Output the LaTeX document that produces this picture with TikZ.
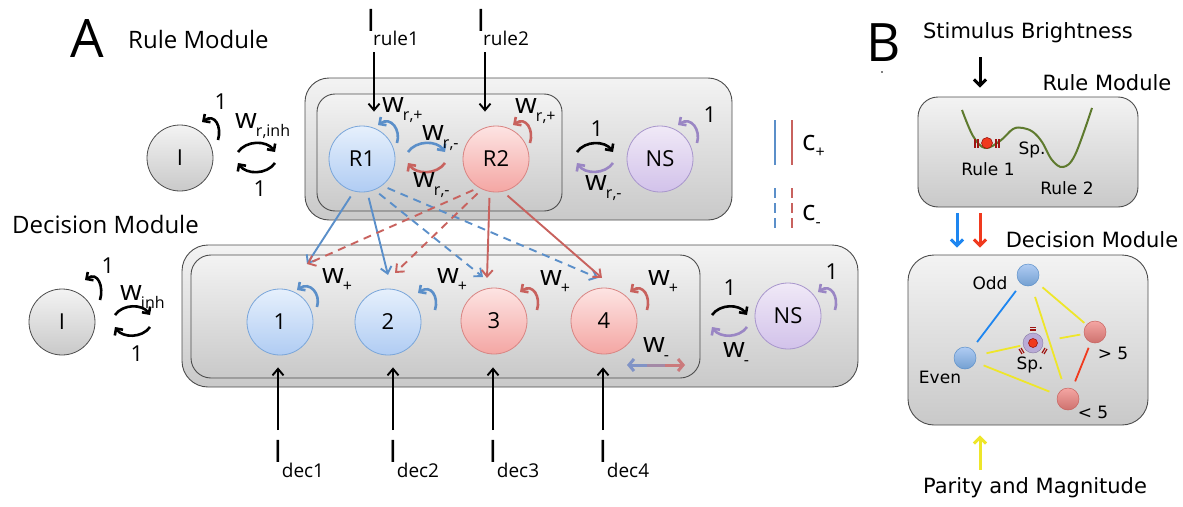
\documentclass[tikz,border=0pt]{standalone}
\usepackage{fontspec}
\setmainfont{Open Sans}
\newfontfamily\bfont{DejaVu Sans}
\usetikzlibrary{arrows.meta,calc}
\definecolor{cblue}{HTML}{5B8FC9}
\definecolor{cred}{HTML}{C8625E}
\definecolor{cpurp}{HTML}{9A86C4}
\definecolor{nblueT}{HTML}{E6F0FC}
\definecolor{nblueB}{HTML}{B0CCF3}
\definecolor{nblueD}{HTML}{7AA6DA}
\definecolor{nredT}{HTML}{FDE4E3}
\definecolor{nredB}{HTML}{F4A6A3}
\definecolor{nredD}{HTML}{D98583}
\definecolor{npurT}{HTML}{F0E9F7}
\definecolor{npurB}{HTML}{D2C2EA}
\definecolor{npurD}{HTML}{A896CC}
\definecolor{grT}{HTML}{F3F3F3}
\definecolor{grB}{HTML}{C9C9C9}
\definecolor{olivec}{HTML}{5E7A2E}
\definecolor{byel}{HTML}{EEE62A}
\definecolor{bblue}{HTML}{1E86F0}
\definecolor{bred}{HTML}{F03A1E}
\definecolor{dred}{HTML}{9E1410}
\definecolor{wmL}{HTML}{8093C6}
\definecolor{wmM}{HTML}{A489A6}
\definecolor{wmR}{HTML}{CB7A7C}
\tikzset{
  box/.style={draw=black!70, line width=0.9pt, top color=grT, bottom color=grB, inner sep=0pt},
  circ/.style={circle, minimum size=66pt, inner sep=0pt, line width=0.8pt, font=\fontsize{22}{22}\selectfont},
  bluen/.style={circ, draw=nblueD, top color=nblueT, bottom color=nblueB},
  redn/.style={circ, draw=nredD, top color=nredT, bottom color=nredB},
  purpn/.style={circ, draw=npurD, top color=npurT, bottom color=npurB},
  grayn/.style={circ, draw=black!70, top color=grT, bottom color=grB},
  lp/.style={line width=2.6pt, -{Straight Barb[length=5pt,width=10pt]}},
  conn/.style={line width=1.9pt, shorten <=6pt, -{Straight Barb[length=6.5pt,width=11pt]}},
  dconn/.style={conn, dash pattern=on 8pt off 6pt},
  inarr/.style={line width=1.9pt, -{Straight Barb[length=6.5pt,width=11pt]}},
  wl/.style={anchor=base west, inner sep=0pt, font=\fontsize{28}{28}\selectfont},
  onel/.style={inner sep=0pt, font=\fontsize{22}{22}\selectfont},
  ttl/.style={anchor=base west, inner sep=0pt, font=\fontsize{24}{24}\selectfont},
  bigl/.style={inner sep=0pt, font=\fontsize{53}{53}\selectfont},
  ilab/.style={inner sep=0pt, font=\fontsize{31}{31}\selectfont},
  isub/.style={inner sep=0pt, font=\fontsize{19}{19}\selectfont},
  legl/.style={line width=1.9pt},
  bhead/.style={inner sep=0pt, font=\bfont\fontsize{21}{21}\selectfont},
  bsm/.style={inner sep=0pt, font=\bfont\fontsize{17}{17}\selectfont},
  barr/.style={line width=3pt, -{Straight Barb[length=6pt,width=12pt]}},
  bline/.style={line width=1.8pt},
  sbn/.style={circle, minimum size=22pt, inner sep=0pt, line width=0.5pt},
}
\newcommand\wsub[1]{w\kern-1pt\raisebox{-8pt}{\fontsize{16}{16}\selectfont #1}}
\newcommand\sloop[4]{\draw[lp,#1] ($(#2)+(#3)$) .. controls ($(#2)+(#3)+(4,-13)$) and ($(#2)+(#4)+(13,-9)$) .. ($(#2)+(#4)$);}
\begin{document}
\begin{tikzpicture}[x=1pt,y=-1pt]
\useasboundingbox (0,0) rectangle (1183,506);
% ---------------- Panel A ----------------
\node[bigl] (A) at (87,39) {A};
\node[ttl] (rmt) at (128,48) {Rule Module};
\node[ttl] (dmt) at (12,233) {Decision Module};
% boxes
\node[box, rounded corners=24pt, minimum width=427pt, minimum height=142pt] (rmo) at (518.5,149) {};
\node[box, rounded corners=18pt, minimum width=245pt, minimum height=117pt] (rmi) at (439.5,152.5) {};
\node[box, rounded corners=26pt, minimum width=676pt, minimum height=142pt] (dmo) at (520,316) {};
\node[box, rounded corners=20pt, minimum width=509pt, minimum height=123pt] (dmi) at (445.5,316.5) {};
% nodes
\node[grayn] (Ir) at (180,158) {I};
\node[bluen] (R1) at (362,159) {R1};
\node[redn] (R2) at (496,159) {R2};
\node[purpn] (NSr) at (660,159) {NS};
\node[grayn] (Id) at (62,322) {I};
\node[bluen] (d1) at (280,322) {1};
\node[bluen] (d2) at (388,322) {2};
\node[redn] (d3) at (494,321) {3};
\node[redn] (d4) at (604,321) {4};
\node[purpn] (NSd) at (788,316) {NS};
% self loops
\sloop{black}{Ir}{38,-18}{22,-36}
\sloop{cblue}{R1}{35,-16}{16,-34}
\sloop{cred}{R2}{34,-16}{17,-34}
\sloop{cpurp}{NSr}{37,-16}{18,-34}
\sloop{black}{Id}{38,-22}{23,-42}
\sloop{cblue}{d1}{37,-15}{17,-32}
\sloop{cblue}{d2}{47,-12}{30,-29}
\sloop{cred}{d3}{43,-11}{26,-29}
\sloop{cred}{d4}{43,-11}{26,-29}
\sloop{cpurp}{NSd}{47,-6}{30,-24}
% paired arcs
\draw[lp] ($(Ir)+(58,-6)$) to[bend left=55] ($(Ir)+(95,-6)$);
\draw[lp] ($(Ir)+(95,5)$) to[bend left=55] ($(Ir)+(58,5)$);
\draw[lp,cblue] ($(R1)+(46,-7)$) to[bend left=55] ($(R1)+(83,-7)$);
\draw[lp,cred] ($(R1)+(83,4)$) to[bend left=55] ($(R1)+(46,4)$);
\draw[lp] ($(R2)+(81,-7)$) to[bend left=55] ($(R2)+(117,-7)$);
\draw[lp,cpurp] ($(R2)+(117,4)$) to[bend left=55] ($(R2)+(81,4)$);
\draw[lp] ($(Id)+(53,-7)$) to[bend left=55] ($(Id)+(88,-7)$);
\draw[lp] ($(Id)+(88,5)$) to[bend left=55] ($(Id)+(53,5)$);
\draw[lp] ($(d4)+(108,-6)$) to[bend left=55] ($(d4)+(143,-6)$);
\draw[lp,cpurp] ($(d4)+(143,6)$) to[bend left=55] ($(d4)+(108,6)$);
% rule -> decision connectors
\coordinate (t1) at ($(d1)+(27,-58)$);
\coordinate (t2b) at ($(d2)+(0,-47)$);
\coordinate (t2r) at ($(d2)+(7,-49)$);
\coordinate (t3b) at ($(d3)+(-11,-44)$);
\coordinate (t3r) at ($(d3)+(-7,-43)$);
\coordinate (t4b) at ($(d4)+(-6,-43)$);
\coordinate (t4r) at ($(d4)+(-2,-43)$);
\draw[conn,cblue] (R1.256) -- (t1);
\draw[conn,cblue] (R1.279) -- (t2b);
\draw[dconn,cblue] (R1.292) -- (t3b);
\draw[dconn,cblue] (R1.307) -- (t4b);
\draw[dconn,cred] (R2.239) -- (t1);
\draw[dconn,cred] (R2.245) -- (t2r);
\draw[conn,cred] (R2.259) -- (t3r);
\draw[conn,cred] (R2.282) -- (t4r);
% inputs
\node[ilab] (Ir1) at (371,20) {I};
\node[isub] (Ir1s) at (396,38) {rule1};
\node[ilab] (Ir2) at (481,20) {I};
\node[isub] (Ir2s) at (506,38) {rule2};
\coordinate (ir1a) at (374,52);
\coordinate (ir2a) at (485,52);
\draw[inarr, shorten >=14pt] (ir1a) -- (ir1a |- R1.north);
\draw[inarr, shorten >=14pt] (ir2a) -- (ir2a |- R2.north);
\node[ilab] (Id1) at (278,451) {I};
\node[isub] (Id1s) at (303,470) {dec1};
\node[ilab] (Id2) at (393,451) {I};
\node[isub] (Id2s) at (418,470) {dec2};
\node[ilab] (Id3) at (493,451) {I};
\node[isub] (Id3s) at (518,470) {dec3};
\node[ilab] (Id4) at (603,451) {I};
\node[isub] (Id4s) at (628,470) {dec4};
\coordinate (id1a) at (278,430);
\coordinate (id2a) at (393,430);
\coordinate (id3a) at (493,430);
\coordinate (id4a) at (603,430);
\draw[inarr, shorten >=12pt] (id1a) -- (id1a |- d1.south);
\draw[inarr, shorten >=12pt] (id2a) -- (id2a |- d2.south);
\draw[inarr, shorten >=13pt] (id3a) -- (id3a |- d3.south);
\draw[inarr, shorten >=13pt] (id4a) -- (id4a |- d4.south);
% w labels
\node[wl] (wl1) at (382,112) {\wsub{r,+}};
\node[wl] (wl2) at (422,140) {\wsub{r,-}};
\node[wl] (wl3) at (413,187) {\wsub{r,-}};
\node[wl] (wl4) at (515,113) {\wsub{r,+}};
\node[wl] (wl5) at (585,190) {\wsub{r,-}};
\node[wl] (wl6) at (235,128) {\wsub{r,inh}};
\node[wl] (wl7) at (120,300) {\wsub{inh}};
\node[wl] (wl8) at (322,283) {\wsub{+}};
\node[wl] (wl9) at (437,283) {\wsub{+}};
\node[wl] (wl10) at (540,285) {\wsub{+}};
\node[wl] (wl11) at (648,285) {\wsub{+}};
\node[wl] (wl12) at (643,352) {\wsub{-}};
\node[wl] (wl13) at (723,357) {\wsub{-}};
% one labels
\node[onel] (o1) at (221,102) {1};
\node[onel] (o2) at (260,189) {1};
\node[onel] (o3) at (597,129) {1};
\node[onel] (o4) at (710,115) {1};
\node[onel] (o5) at (108,266) {1};
\node[onel] (o6) at (137,354) {1};
\node[onel] (o7) at (730,288) {1};
\node[onel] (o8) at (832,272) {1};
% w- double arrow
\coordinate (wa) at (627,365);
\coordinate (wm1) at (647,365);
\coordinate (wm2) at (665,365);
\coordinate (wb) at (685,365);
\draw[line width=3pt, wmL, {Straight Barb[length=5pt,width=12pt]}-] (wa) -- (wm1);
\draw[line width=3pt, wmM] (wm1) -- (wm2);
\draw[line width=3pt, wmR, -{Straight Barb[length=5pt,width=12pt]}] (wm2) -- (wb);
% legend
\draw[legl, cblue] (775,120) -- (775,165);
\draw[legl, cred] (792,120) -- (792,165);
\draw[legl, cblue, dash pattern=on 10pt off 5pt] (775,188) -- (775,230);
\draw[legl, cred, dash pattern=on 10pt off 5pt] (792,188) -- (792,230);
\node[anchor=base west, inner sep=0pt, font=\fontsize{28}{28}\selectfont] (cp) at (802,150) {c\raisebox{-7pt}{\fontsize{16}{16}\selectfont +}};
\node[anchor=base west, inner sep=0pt, font=\fontsize{28}{28}\selectfont] (cm) at (802,220) {c\raisebox{-7pt}{\fontsize{16}{16}\selectfont -}};
% ---------------- Panel B ----------------
\node[bigl] (B) at (884,43) {B};
\fill (882,72) circle (0.9pt);
\node[bhead] (stim) at (1028,33) {Stimulus Brightness};
\node[bhead] (brmt) at (1107,83) {Rule Module};
\node[bhead] (bdmt) at (1092,240) {Decision Module};
\node[bhead] (pm) at (1035,488) {Parity and Magnitude};
\node[box, rounded corners=20pt, minimum width=220pt, minimum height=110pt] (brule) at (1028,152) {};
\node[box, rounded corners=26pt, minimum width=240pt, minimum height=170pt] (bdec) at (1028,340) {};
\draw[olivec, line width=2pt] plot[smooth, tension=0.6] coordinates {(962,110) (973,136) (985,148) (1000,141) (1013,129) (1023,128) (1033,132) (1042,142) (1052,160) (1063,167) (1075,155) (1092,108)};
\foreach \xx in {975,978,996,999} \draw[dred, line width=1.3pt] (\xx,139) -- (\xx,148);
\node[circle, minimum size=11pt, inner sep=0pt, fill=bred, draw=dred, line width=0.6pt] (ball) at (987,143) {};
\node[bsm] (bsp1) at (1032,150) {Sp.};
\node[bsm] (br1) at (988,169) {Rule 1};
\node[bsm] (br2) at (1067,188) {Rule 2};
\coordinate (sa) at (980,57);
\draw[barr, shorten >=9pt] (sa) -- (sa |- brule.north);
\coordinate (ba) at (957,213);
\coordinate (ra) at (980,213);
\draw[barr, bblue, shorten >=7pt] (ba) -- (ba |- bdec.north);
\draw[barr, bred, shorten >=7pt] (ra) -- (ra |- bdec.north);
\coordinate (ya) at (980,470);
\draw[barr, byel, shorten >=10pt] (ya) -- (ya |- bdec.south);
% decision landscape nodes
\node[sbn, draw=cblue, top color=nblueB, bottom color=cblue!85] (odd) at (1028,275) {};
\node[sbn, draw=cblue, top color=nblueB, bottom color=cblue!85] (even) at (965,358) {};
\node[sbn, draw=cred, top color=nredB, bottom color=cred!90] (gt) at (1095,332) {};
\node[sbn, draw=cred, top color=nredB, bottom color=cred!90] (lt) at (1068,399) {};
\node[circle, minimum size=20pt, inner sep=0pt, draw=npurD!80!black, fill=npurD!80] (sp) at (1033,343) {};
\fill[bred, draw=dred, line width=0.6pt] (sp) circle (4.5pt);
\draw[dred, line width=1.2pt] ($(sp)+(-3,-13)$) -- ($(sp)+(3,-13)$);
\draw[dred, line width=1.2pt] ($(sp)+(-3,-15.5)$) -- ($(sp)+(3,-15.5)$);
\draw[dred, line width=1.2pt] ($(sp)+(-12,5)$) -- ($(sp)+(-9,10)$);
\draw[dred, line width=1.2pt] ($(sp)+(-14,6)$) -- ($(sp)+(-11,11)$);
\draw[dred, line width=1.2pt] ($(sp)+(12,5)$) -- ($(sp)+(9,10)$);
\draw[dred, line width=1.2pt] ($(sp)+(14,6)$) -- ($(sp)+(11,11)$);
\draw[bline, bblue, shorten <=20pt, shorten >=20pt] (odd.center) -- (even.center);
\draw[bline, byel, shorten <=19pt, shorten >=14pt] (odd.center) -- (gt.center);
\draw[bline, byel, shorten <=23pt, shorten >=21pt] (odd.center) -- (lt.center);
\draw[bline, byel, shorten <=22pt, shorten >=13pt] (even.center) -- (sp.center);
\draw[bline, byel, shorten <=27pt, shorten >=15pt] (sp.center) -- (gt.center);
\draw[bline, byel, shorten <=20pt, shorten >=20pt] (even.center) -- (lt.center);
\draw[bline, bred, shorten <=17pt, shorten >=19pt] (gt.center) -- (lt.center);
\node[bsm] (lodd) at (990,283) {Odd};
\node[bsm] (leven) at (940,377) {Even};
\node[bsm] (lgt) at (1113,353) {> 5};
\node[bsm] (llt) at (1093,412) {< 5};
\node[bsm] (lsp) at (1030,365) {Sp.};
\end{tikzpicture}
\end{document}
